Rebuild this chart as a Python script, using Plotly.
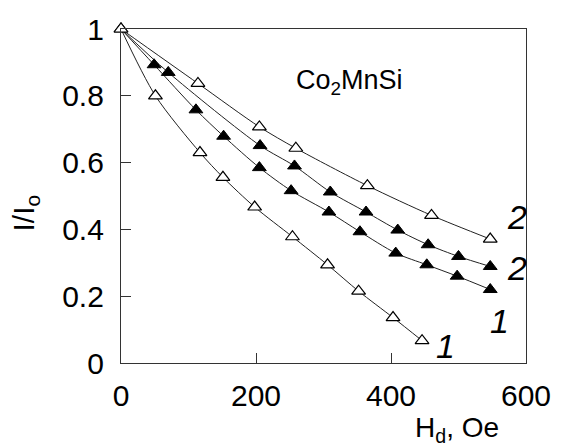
import plotly.graph_objects as go

# Demagnetizing-field dependence of the normalized intensity, Co2MnSi
# Open triangles: series 1 (lower) and series 2 (upper)
open1_h = [0, 51, 117, 151, 198, 254, 306, 352, 403, 446]
open1_i = [1.0, 0.80, 0.63, 0.556, 0.467, 0.378, 0.294, 0.215, 0.136, 0.067]

open2_h = [0, 114, 205, 259, 365, 460, 547]
open2_i = [1.0, 0.837, 0.707, 0.643, 0.531, 0.442, 0.371]

# Filled triangles: series 2 (upper) and series 1 (lower)
fill2_h = [0, 70, 206, 257, 310, 363, 410, 455, 500, 547]
fill2_i = [1.0, 0.870, 0.651, 0.590, 0.512, 0.452, 0.398, 0.354, 0.319, 0.289]

fill1_h = [0, 49, 111, 152, 205, 252, 308, 354, 407, 453, 498, 547]
fill1_i = [1.0, 0.893, 0.758, 0.679, 0.585, 0.516, 0.452, 0.393, 0.329, 0.294, 0.260, 0.220]

x_ticks = [0, 200, 400, 600]
y_ticks = [0, 0.2, 0.4, 0.6, 0.8, 1]
y_tick_text = ["0", "0.2", "0.4", "0.6", "0.8", "1"]

# curve number labels: (text, H position, I position)
curve_labels = [("2", 586, 0.436), ("2", 586, 0.284), ("1", 560, 0.125), ("1", 480, 0.05)]

FONT = "Liberation Sans, Arial, sans-serif"
LINE = dict(color="#222222", width=1, shape="spline", smoothing=0.8)
MSIZE = 12

fig = go.Figure()

# smooth curves through each data set
for hx, iy in [(open1_h, open1_i), (open2_h, open2_i), (fill2_h, fill2_i), (fill1_h, fill1_i)]:
    fig.add_trace(go.Scatter(x=hx, y=iy, mode="lines", line=LINE,
                             hoverinfo="skip", cliponaxis=False))

# filled markers (the common starting point is drawn open)
for hx, iy in [(fill2_h, fill2_i), (fill1_h, fill1_i)]:
    fig.add_trace(go.Scatter(x=hx[1:], y=iy[1:], mode="markers", cliponaxis=False,
                             marker=dict(symbol="triangle-up", size=MSIZE, color="black",
                                         line=dict(color="black", width=1))))

# open markers
for hx, iy in [(open1_h, open1_i), (open2_h, open2_i)]:
    fig.add_trace(go.Scatter(x=hx, y=iy, mode="markers", cliponaxis=False,
                             marker=dict(symbol="triangle-up", size=MSIZE, color="white",
                                         line=dict(color="black", width=1.2))))

# curve numbers; the y axis spans 0..1, so paper y equals the intensity value
for txt, hx, iy in curve_labels:
    fig.add_annotation(x=hx, y=iy, xref="x", yref="paper", text=f"<i>{txt}</i>",
                       showarrow=False, xanchor="center", yanchor="middle",
                       font=dict(family=FONT, size=34, color="black"))

fig.add_annotation(x=338, y=0.84, text="Co<sub>2</sub>MnSi", showarrow=False,
                   xanchor="center", yanchor="middle",
                   font=dict(family=FONT, size=27, color="black"))

# axis titles
fig.add_annotation(xref="paper", yref="paper", x=0.83, y=-0.2,
                   text="H<sub>d</sub>, Oe", showarrow=False,
                   xanchor="center", yanchor="middle",
                   font=dict(family=FONT, size=28, color="black"))
fig.add_annotation(xref="paper", yref="paper", x=-0.235, y=0.45,
                   text="I/I<sub>o</sub>", showarrow=False, textangle=-90,
                   xanchor="center", yanchor="middle",
                   font=dict(family=FONT, size=30, color="black"))

axis_common = dict(showgrid=False, zeroline=False, showline=True, linecolor="#333333",
                   linewidth=1.3, mirror=True, ticks="inside", ticklen=10,
                   tickwidth=1.2, tickcolor="#333333",
                   tickfont=dict(family=FONT, size=30, color="black"))

fig.update_xaxes(range=[0, 600], tickvals=x_ticks, ticklabelstandoff=6, **axis_common)
fig.update_yaxes(range=[0, 1], tickvals=y_ticks, ticktext=y_tick_text,
                 ticklabelstandoff=10, **axis_common)

fig.update_layout(width=563, height=447, showlegend=False,
                  margin=dict(l=121, r=28, t=25, b=84),
                  plot_bgcolor="white", paper_bgcolor="white")

fig.write_html("out.html")
